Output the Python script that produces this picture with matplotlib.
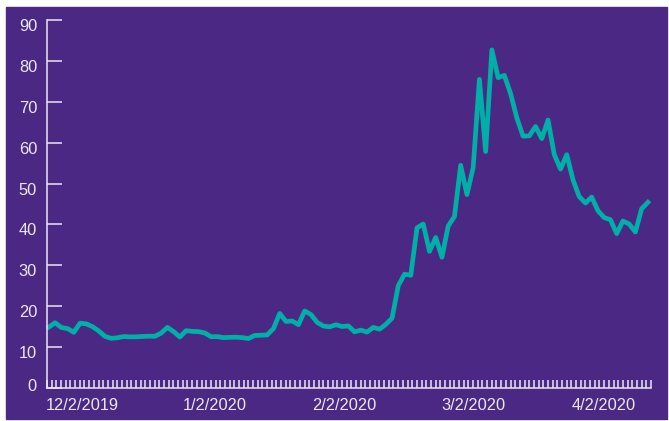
import matplotlib.pyplot as plt
import matplotlib.transforms as mtransforms
import numpy as np

# daily closes, 12/2/2019 - 4/21/2020
dec = [14.91, 15.96, 14.80, 14.52, 13.62, 15.86, 15.68, 14.99, 13.94, 12.63, 12.14,
       12.29, 12.58, 12.50, 12.51, 12.61, 12.67, 12.65, 13.43, 14.82, 13.78]
jan = [12.47, 14.02, 13.85, 13.79, 13.45, 12.54, 12.56, 12.32, 12.39, 12.42, 12.32,
       12.10, 12.85, 12.91, 12.98, 14.56, 18.23, 16.28, 16.39, 15.49, 18.84]
feb = [17.97, 16.05, 15.15, 14.96, 15.47, 15.04, 15.18, 13.74, 14.15, 13.68, 14.83,
       14.38, 15.56, 17.08, 25.03, 27.85, 27.56, 39.16, 40.11]
mar = [33.42, 36.82, 31.99, 39.62, 41.94, 54.46, 47.30, 53.90, 75.47, 57.83, 82.69,
       75.91, 76.45, 72.00, 66.04, 61.59, 61.67, 63.95, 61.00, 65.54, 57.08, 53.54]
apr = [57.06, 50.91, 46.80, 45.24, 46.70, 43.35, 41.67, 41.17, 37.76, 40.84, 40.11,
       38.15, 43.83, 45.41]
values = dec + jan + feb + mar + apr

date_labels = ['12/2/2019', '1/2/2020', '2/2/2020', '3/2/2020', '4/2/2020']
label_pos = [5.3, 26.6, 47.4, 68.1, 88.9]
y_ticks = np.arange(0, 100, 10)

purple = '#4B2883'
teal = '#00B0A8'
pale = '#ECE6F3'

plt.rcParams['font.family'] = ['Liberation Sans', 'DejaVu Sans']

fig = plt.figure(figsize=(6.69, 4.21), dpi=100)
fig.patches.append(plt.Rectangle((6 / 669, 2 / 421), 661 / 669, 412 / 421,
                                 transform=fig.transFigure, color=purple, zorder=-10))
ax = fig.add_axes([47 / 669, 33 / 421, 604 / 669, 368 / 421])
ax.set_facecolor('none')

x = np.arange(len(values))
ax.plot(x, values, color=teal, lw=3.4, clip_on=False)

ax.set_xlim(-0.3, 96.5)
ax.set_ylim(0, 90)

for s in ['top', 'right']:
    ax.spines[s].set_visible(False)
for s in ['left', 'bottom']:
    ax.spines[s].set_color(pale)
    ax.spines[s].set_linewidth(1.1)

ax.set_yticks(y_ticks)
ax.tick_params(axis='y', direction='in', length=10.8, width=1.1, color=pale,
               labelcolor=pale, labelsize=11.8, pad=7.2)

ax.set_xticks(label_pos)
ax.set_xticklabels(date_labels)
ax.tick_params(axis='x', which='major', length=0, pad=7.5, labelcolor=pale, labelsize=11.8)
ax.set_xticks(np.linspace(-0.3, 96.5, 130), minor=True)
ax.tick_params(axis='x', which='minor', direction='in', length=5.5, width=1.1, color=pale)

# y labels sit a little below their ticks
for lab, v in zip(ax.get_yticklabels(), y_ticks):
    dy = 0.03 if v == 0 else -0.05
    lab.set_transform(lab.get_transform() + mtransforms.ScaledTranslation(0, dy, fig.dpi_scale_trans))

fig.savefig('out.png', dpi=100, facecolor='white')
